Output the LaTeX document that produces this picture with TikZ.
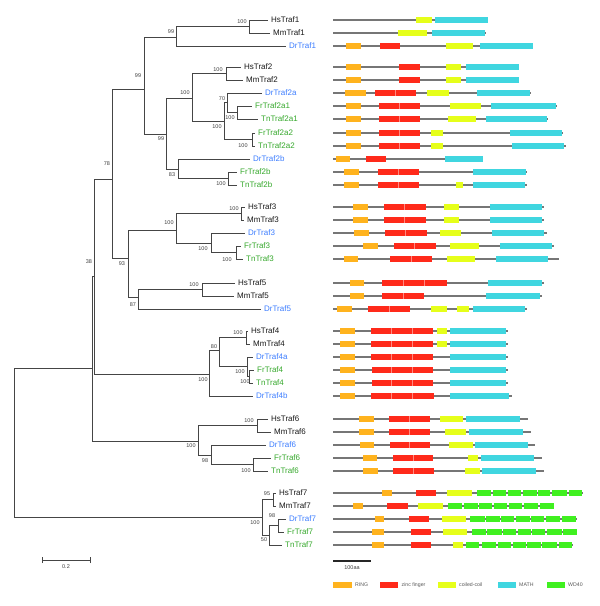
\documentclass[tikz,border=0pt]{standalone}
\usepackage{fontspec}
\setmainfont{Liberation Sans}
\definecolor{ringc}{HTML}{FFB31E}
\definecolor{zincc}{HTML}{FF2A1A}
\definecolor{coilc}{HTML}{E6FF1A}
\definecolor{mathc}{HTML}{40D6E0}
\definecolor{wdc}{HTML}{40F020}
\definecolor{drc}{HTML}{3C7DFF}
\definecolor{ftc}{HTML}{36A82C}
\definecolor{treec}{HTML}{454545}
\definecolor{rowc}{HTML}{767676}
\newcommand\mydbox[4]{\fill[#1] (#2,#4-2.8) rectangle (#3,#4+2.8);}
\newcommand\mysplit[2]{\draw[draw=zincc!55!white, line width=0.4pt] (#1,#2-2.8) -- (#1,#2+2.8);}
\newcommand\myrow[2]{\draw[rowc, line width=1.2pt] (333,#1) -- (#2,#1);}
\begin{document}
\begin{tikzpicture}[x=1pt,y=-1pt,
  br/.style={draw=treec, line width=0.95pt},
  leaf/.style={anchor=west, inner xsep=3pt, inner ysep=0pt, font=\fontsize{8}{9}\selectfont, text height=5.7pt, text depth=0pt},
  hm/.style={leaf, text=black!90},
  dr/.style={leaf, text=drc},
  ft/.style={leaf, text=ftc},
  bs/.style={inner sep=0pt, font=\fontsize{5.5}{6}\selectfont, text=black!75},
  lg/.style={anchor=west, inner sep=0pt, font=\fontsize{5.2}{6}\selectfont, text=black!65}]
\useasboundingbox (0,0) rectangle (600,606);

% ---------- leaves ----------
\node[hm] (HsTraf1) at (268,20) {HsTraf1};
\node[hm] (MmTraf1) at (270,33) {MmTraf1};
\node[dr] (DrTraf1) at (286,46) {DrTraf1};
\node[hm] (HsTraf2) at (241,67) {HsTraf2};
\node[hm] (MmTraf2) at (243,80) {MmTraf2};
\node[dr] (DrTraf2a) at (262,93) {DrTraf2a};
\node[ft] (FrTraf2a1) at (252,106) {FrTraf2a1};
\node[ft] (TnTraf2a1) at (258,119) {TnTraf2a1};
\node[ft] (FrTraf2a2) at (255,133) {FrTraf2a2};
\node[ft] (TnTraf2a2) at (255,146) {TnTraf2a2};
\node[dr] (DrTraf2b) at (250,159) {DrTraf2b};
\node[ft] (FrTraf2b) at (237,172) {FrTraf2b};
\node[ft] (TnTraf2b) at (237,185) {TnTraf2b};
\node[hm] (HsTraf3) at (245,207) {HsTraf3};
\node[hm] (MmTraf3) at (244,220) {MmTraf3};
\node[dr] (DrTraf3) at (245,233) {DrTraf3};
\node[ft] (FrTraf3) at (241,246) {FrTraf3};
\node[ft] (TnTraf3) at (243,259) {TnTraf3};
\node[hm] (HsTraf5) at (235,283) {HsTraf5};
\node[hm] (MmTraf5) at (234,296) {MmTraf5};
\node[dr] (DrTraf5) at (261,309) {DrTraf5};
\node[hm] (HsTraf4) at (248,331) {HsTraf4};
\node[hm] (MmTraf4) at (250,344) {MmTraf4};
\node[dr] (DrTraf4a) at (253,357) {DrTraf4a};
\node[ft] (FrTraf4) at (254,370) {FrTraf4};
\node[ft] (TnTraf4) at (253,383) {TnTraf4};
\node[dr] (DrTraf4b) at (253,396) {DrTraf4b};
\node[hm] (HsTraf6) at (268,419) {HsTraf6};
\node[hm] (MmTraf6) at (271,432) {MmTraf6};
\node[dr] (DrTraf6) at (266,445) {DrTraf6};
\node[ft] (FrTraf6) at (271,458) {FrTraf6};
\node[ft] (TnTraf6) at (268,471) {TnTraf6};
\node[hm] (HsTraf7) at (276,493) {HsTraf7};
\node[hm] (MmTraf7) at (276,506) {MmTraf7};
\node[dr] (DrTraf7) at (286,519) {DrTraf7};
\node[ft] (FrTraf7) at (284,532) {FrTraf7};
\node[ft] (TnTraf7) at (282,545) {TnTraf7};

% ---------- internal nodes ----------
\coordinate (n1a) at (249,26.5);
\coordinate (n1) at (176,37);
\coordinate (n70) at (227,102);
\coordinate (n2a1) at (237,112.5);
\coordinate (n2a2) at (252,139.5);
\coordinate (n2a) at (224,121);
\coordinate (n2hm) at (226,73.5);
\coordinate (n2) at (192,98);
\coordinate (n2bft) at (228,178.5);
\coordinate (n83) at (178,169);
\coordinate (n99b) at (166,134);
\coordinate (n99a) at (144,89);
\coordinate (n3hm) at (241,213.5);
\coordinate (n3ft) at (236,252.5);
\coordinate (n3d) at (211,243);
\coordinate (n3) at (176,230);
\coordinate (n5hm) at (202,289.5);
\coordinate (n87) at (138,297);
\coordinate (n93) at (128,258);
\coordinate (n78) at (112,179);
\coordinate (n4hm) at (246,337.5);
\coordinate (n4ft) at (249.5,376.5);
\coordinate (n4d) at (247.5,366);
\coordinate (n80) at (219,350);
\coordinate (n4) at (209,374);
\coordinate (n38) at (94,276);
\coordinate (n6hm) at (257,425.5);
\coordinate (n6ft) at (253,464.5);
\coordinate (n98) at (211,455);
\coordinate (n6) at (198,441);
\coordinate (nX) at (92,368);
\coordinate (n7hm) at (273,499.5);
\coordinate (n7df) at (278,525.5);
\coordinate (n50) at (269,535);
\coordinate (n7) at (262,517.5);
\coordinate (root) at (14,437);

% ---------- branches ----------
\foreach \p/\c in {n1a/HsTraf1.west, n1a/MmTraf1.west, n1/n1a, n1/DrTraf1.west,
  n99a/n1, n99a/n99b, n99b/n2, n99b/n83, n2/n2hm, n2/n2a,
  n2hm/HsTraf2.west, n2hm/MmTraf2.west, n2a/n70, n2a/n2a2,
  n70/DrTraf2a.west, n70/n2a1, n2a1/FrTraf2a1.west, n2a1/TnTraf2a1.west,
  n2a2/FrTraf2a2.west, n2a2/TnTraf2a2.west, n83/DrTraf2b.west, n83/n2bft,
  n2bft/FrTraf2b.west, n2bft/TnTraf2b.west, n78/n99a, n78/n93,
  n93/n3, n93/n87, n3/n3hm, n3/n3d, n3hm/HsTraf3.west, n3hm/MmTraf3.west,
  n3d/DrTraf3.west, n3d/n3ft, n3ft/FrTraf3.west, n3ft/TnTraf3.west,
  n87/n5hm, n87/DrTraf5.west, n5hm/HsTraf5.west, n5hm/MmTraf5.west,
  n38/n78, n38/n4, n4/n80, n4/DrTraf4b.west, n80/n4hm, n80/n4d,
  n4hm/HsTraf4.west, n4hm/MmTraf4.west, n4d/DrTraf4a.west, n4d/n4ft,
  n4ft/FrTraf4.west, n4ft/TnTraf4.west, nX/n38, nX/n6, n6/n6hm, n6/n98,
  n6hm/HsTraf6.west, n6hm/MmTraf6.west, n98/DrTraf6.west, n98/n6ft,
  n6ft/FrTraf6.west, n6ft/TnTraf6.west, root/nX, root/n7, n7/n7hm, n7/n50,
  n7hm/HsTraf7.west, n7hm/MmTraf7.west, n50/n7df, n50/TnTraf7.west,
  n7df/DrTraf7.west, n7df/FrTraf7.west}
  \draw[br] (\p) |- (\c);

% ---------- bootstrap values ----------
\node[bs] (b1) at (242,22) {100};
\node[bs] (b2) at (171,32) {99};
\node[bs] (b3) at (138,76) {99};
\node[bs] (b4) at (218,70) {100};
\node[bs] (b5) at (222,99) {70};
\node[bs] (b6) at (230,118) {100};
\node[bs] (b7) at (217,127) {100};
\node[bs] (b8) at (243,146) {100};
\node[bs] (b9) at (185,93) {100};
\node[bs] (b10) at (161,139) {99};
\node[bs] (b11) at (172,175) {83};
\node[bs] (b12) at (221,184) {100};
\node[bs] (b13) at (107,164) {78};
\node[bs] (b14) at (234,209) {100};
\node[bs] (b15) at (169,223) {100};
\node[bs] (b16) at (203,249) {100};
\node[bs] (b17) at (227,260) {100};
\node[bs] (b18) at (122,264) {93};
\node[bs] (b19) at (194,285) {100};
\node[bs] (b20) at (133,305) {87};
\node[bs] (b21) at (89,262) {38};
\node[bs] (b22) at (238,333) {100};
\node[bs] (b23) at (214,347) {80};
\node[bs] (b24) at (240,372) {100};
\node[bs] (b25) at (245,382) {100};
\node[bs] (b26) at (203,380) {100};
\node[bs] (b27) at (249,421) {100};
\node[bs] (b28) at (191,446) {100};
\node[bs] (b29) at (205,461) {98};
\node[bs] (b30) at (246,471) {100};
\node[bs] (b31) at (267,494) {95};
\node[bs] (b32) at (272,516) {98};
\node[bs] (b33) at (255,523) {100};
\node[bs] (b34) at (264,540) {50};

% ---------- tree scale bar ----------
\coordinate (sbL) at (42,560);
\coordinate (sbR) at (90,560);
\draw[br, line width=1pt] (sbL) -- (sbR);
\draw[br, line width=0.8pt] ([yshift=-3pt]sbL) -- ([yshift=3pt]sbL);
\draw[br, line width=0.8pt] ([yshift=-3pt]sbR) -- ([yshift=3pt]sbR);
\node[bs] (sbT) at (66,567) {0.2};

% ---------- domain architectures ----------
% Traf1
\myrow{20}{488}\mydbox{coilc}{416}{432}{20}\mydbox{mathc}{435}{488}{20}
\myrow{33}{486}\mydbox{coilc}{398}{427}{33}\mydbox{mathc}{432}{485}{33}
\myrow{46}{533}\mydbox{ringc}{346}{361}{46}\mydbox{zincc}{380}{400}{46}\mydbox{coilc}{446}{473}{46}\mydbox{mathc}{480}{533}{46}
% Traf2
\myrow{67}{519}\mydbox{ringc}{346}{361}{67}\mydbox{zincc}{399}{420}{67}\mydbox{coilc}{446}{461}{67}\mydbox{mathc}{466}{519}{67}
\myrow{80}{519}\mydbox{ringc}{346}{361}{80}\mydbox{zincc}{399}{420}{80}\mydbox{coilc}{446}{461}{80}\mydbox{mathc}{466}{519}{80}
\myrow{93}{531}\mydbox{ringc}{345}{366}{93}\mydbox{zincc}{375}{416}{93}\mysplit{395}{93}\mydbox{coilc}{427}{449}{93}\mydbox{mathc}{477}{530}{93}
\myrow{106}{557}\mydbox{ringc}{346}{361}{106}\mydbox{zincc}{379}{420}{106}\mysplit{399}{106}\mydbox{coilc}{450}{481}{106}\mydbox{mathc}{491}{556}{106}
\myrow{119}{548}\mydbox{ringc}{346}{361}{119}\mydbox{zincc}{379}{420}{119}\mysplit{399}{119}\mydbox{coilc}{448}{476}{119}\mydbox{mathc}{486}{547}{119}
\myrow{133}{563}\mydbox{ringc}{346}{361}{133}\mydbox{zincc}{379}{420}{133}\mysplit{399}{133}\mydbox{coilc}{431}{443}{133}\mydbox{mathc}{510}{562}{133}
\myrow{146}{566}\mydbox{ringc}{346}{361}{146}\mydbox{zincc}{379}{420}{146}\mysplit{399}{146}\mydbox{coilc}{431}{443}{146}\mydbox{mathc}{512}{564}{146}
\myrow{159}{483}\mydbox{ringc}{336}{350}{159}\mydbox{zincc}{366}{386}{159}\mydbox{mathc}{445}{483}{159}
\myrow{172}{527}\mydbox{ringc}{344}{359}{172}\mydbox{zincc}{378}{419}{172}\mysplit{398}{172}\mydbox{mathc}{473}{526}{172}
\myrow{185}{527}\mydbox{ringc}{344}{359}{185}\mydbox{zincc}{378}{419}{185}\mysplit{398}{185}\mydbox{coilc}{456}{463}{185}\mydbox{mathc}{473}{525}{185}
% Traf3
\myrow{207}{544}\mydbox{ringc}{353}{368}{207}\mydbox{zincc}{384}{426}{207}\mysplit{404}{207}\mydbox{coilc}{444}{459}{207}\mydbox{mathc}{490}{542}{207}
\myrow{220}{544}\mydbox{ringc}{353}{368}{220}\mydbox{zincc}{384}{426}{220}\mysplit{404}{220}\mydbox{coilc}{444}{459}{220}\mydbox{mathc}{490}{542}{220}
\myrow{233}{547}\mydbox{ringc}{354}{369}{233}\mydbox{zincc}{385}{427}{233}\mysplit{405}{233}\mydbox{coilc}{440}{461}{233}\mydbox{mathc}{492}{544}{233}
\myrow{246}{554}\mydbox{ringc}{363}{378}{246}\mydbox{zincc}{394}{436}{246}\mysplit{414}{246}\mydbox{coilc}{450}{479}{246}\mydbox{mathc}{500}{552}{246}
\myrow{259}{559}\mydbox{ringc}{344}{358}{259}\mydbox{zincc}{390}{432}{259}\mysplit{411}{259}\mydbox{coilc}{447}{475}{259}\mydbox{mathc}{496}{548}{259}
% Traf5
\myrow{283}{544}\mydbox{ringc}{350}{364}{283}\mydbox{zincc}{382}{447}{283}\mysplit{403}{283}\mysplit{424}{283}\mydbox{mathc}{488}{542}{283}
\myrow{296}{542}\mydbox{ringc}{350}{364}{296}\mydbox{zincc}{382}{424}{296}\mysplit{403}{296}\mydbox{mathc}{486}{540}{296}
\myrow{309}{527}\mydbox{ringc}{337}{352}{309}\mydbox{zincc}{368}{410}{309}\mysplit{389}{309}\mydbox{coilc}{431}{447}{309}\mydbox{coilc}{457}{469}{309}\mydbox{mathc}{473}{525}{309}
% Traf4
\myrow{331}{508}\mydbox{ringc}{340}{355}{331}\mydbox{zincc}{371}{433}{331}\mysplit{391}{331}\mysplit{412}{331}\mydbox{coilc}{437}{447}{331}\mydbox{mathc}{450}{506}{331}
\myrow{344}{508}\mydbox{ringc}{340}{355}{344}\mydbox{zincc}{371}{433}{344}\mysplit{391}{344}\mysplit{412}{344}\mydbox{coilc}{437}{447}{344}\mydbox{mathc}{450}{506}{344}
\myrow{357}{508}\mydbox{ringc}{340}{355}{357}\mydbox{zincc}{371}{433}{357}\mysplit{391}{357}\mysplit{412}{357}\mydbox{mathc}{450}{506}{357}
\myrow{370}{508}\mydbox{ringc}{340}{355}{370}\mydbox{zincc}{372}{433}{370}\mysplit{391}{370}\mysplit{412}{370}\mydbox{mathc}{450}{506}{370}
\myrow{383}{508}\mydbox{ringc}{340}{355}{383}\mydbox{zincc}{372}{433}{383}\mysplit{391}{383}\mysplit{412}{383}\mydbox{mathc}{450}{506}{383}
\myrow{396}{512}\mydbox{ringc}{340}{355}{396}\mydbox{zincc}{371}{434}{396}\mysplit{391}{396}\mysplit{412}{396}\mydbox{mathc}{450}{509}{396}
% Traf6
\myrow{419}{528}\mydbox{ringc}{359}{374}{419}\mydbox{zincc}{389}{430}{419}\mysplit{409}{419}\mydbox{coilc}{440}{463}{419}\mydbox{mathc}{466}{520}{419}
\myrow{432}{531}\mydbox{ringc}{359}{374}{432}\mydbox{zincc}{389}{430}{432}\mysplit{409}{432}\mydbox{coilc}{445}{466}{432}\mydbox{mathc}{469}{523}{432}
\myrow{445}{535}\mydbox{ringc}{360}{374}{445}\mydbox{zincc}{390}{430}{445}\mysplit{409}{445}\mydbox{coilc}{449}{473}{445}\mydbox{mathc}{475}{528}{445}
\myrow{458}{542}\mydbox{ringc}{363}{377}{458}\mydbox{zincc}{393}{433}{458}\mysplit{413}{458}\mydbox{coilc}{468}{478}{458}\mydbox{mathc}{481}{534}{458}
\myrow{471}{544}\mydbox{ringc}{363}{378}{471}\mydbox{zincc}{393}{434}{471}\mysplit{413}{471}\mydbox{coilc}{465}{480}{471}\mydbox{mathc}{482}{536}{471}
% Traf7
\myrow{493}{583}\mydbox{ringc}{382}{392}{493}\mydbox{zincc}{416}{436}{493}\mydbox{coilc}{447}{472}{493}
\foreach \a/\b in {477/491,493/506,508/521,523/537,538/550,552/567,569/582}{\mydbox{wdc}{\a}{\b}{493}}
\myrow{506}{554}\mydbox{ringc}{353}{363}{506}\mydbox{zincc}{387}{408}{506}\mydbox{coilc}{418}{443}{506}
\foreach \a/\b in {448/462,464/478,479/492,494/507,509/522,524/538,540/554}{\mydbox{wdc}{\a}{\b}{506}}
\myrow{519}{577}\mydbox{ringc}{375}{384}{519}\mydbox{zincc}{409}{429}{519}\mydbox{coilc}{442}{466}{519}
\foreach \a/\b in {470/485,486/500,501/514,516/530,531/544,546/560,562/576}{\mydbox{wdc}{\a}{\b}{519}}
\myrow{532}{577}\mydbox{ringc}{372}{384}{532}\mydbox{zincc}{411}{431}{532}\mydbox{coilc}{443}{467}{532}
\foreach \a/\b in {472/486,487/502,503/516,518/531,532/545,547/562,563/577}{\mydbox{wdc}{\a}{\b}{532}}
\myrow{545}{573}\mydbox{ringc}{372}{384}{545}\mydbox{zincc}{411}{431}{545}\mydbox{coilc}{453}{463}{545}
\foreach \a/\b in {466/479,482/496,498/511,513/526,527/541,542/557,559/572}{\mydbox{wdc}{\a}{\b}{545}}

% ---------- domain scale bar ----------
\coordinate (aaL) at (333,561);
\coordinate (aaR) at (371,561);
\draw[black!85, line width=1.1pt] (aaL) -- (aaR);
\node[bs] (aaT) at (352,567.5) {100aa};

% ---------- legend ----------
\mydbox{ringc}{333}{352}{585}\node[lg] (lgRING) at (355,585) {RING};
\mydbox{zincc}{380}{398}{585}\node[lg] (lgZinc) at (401.5,585) {zinc finger};
\mydbox{coilc}{438}{456}{585}\node[lg] (lgCoil) at (459,585) {coiled-coil};
\mydbox{mathc}{498}{516}{585}\node[lg] (lgMath) at (519,585) {MATH};
\mydbox{wdc}{547}{565}{585}\node[lg] (lgWD) at (568,585) {WD40};
\end{tikzpicture}
\end{document}
